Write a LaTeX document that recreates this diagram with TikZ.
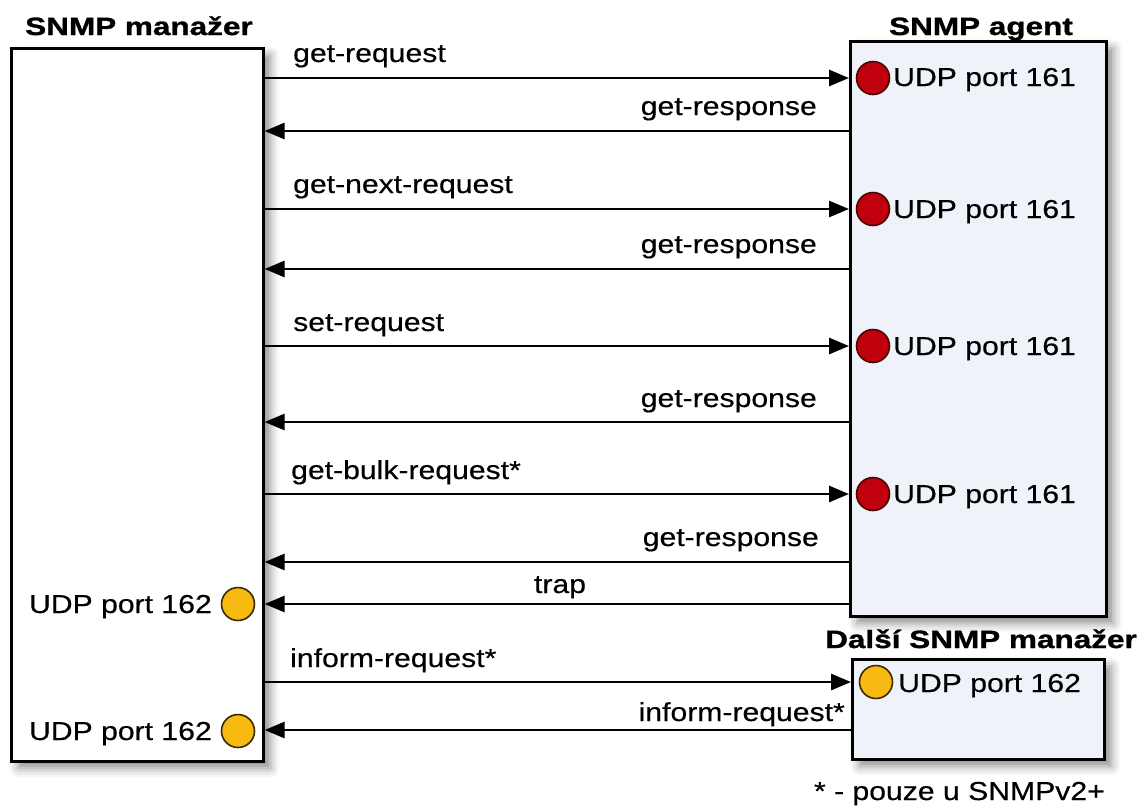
\documentclass[tikz,border=0pt]{standalone}
\usepackage{fontspec}
\setmainfont{Liberation Sans}[FakeStretch=1.16, FakeBold=0.4]
\newfontfamily\headfont{Liberation Sans Bold}[FakeStretch=1.26, FakeBold=1.2]
\usetikzlibrary{arrows.meta,shadows.blur}

\definecolor{agentfill}{HTML}{EFF2F8}
\definecolor{portred}{HTML}{C0000C}
\definecolor{portredline}{HTML}{4A0505}
\definecolor{portyellow}{HTML}{F7BA10}
\definecolor{portyellowline}{HTML}{3A2A05}

\tikzset{
  box/.style={draw=black, line width=2.6pt, anchor=north west, inner sep=0pt,
    blur shadow={shadow xshift=7pt, shadow yshift=-7pt, shadow blur radius=9pt, shadow opacity=45}},
  title/.style={font=\fontsize{25}{25}\headfont, inner sep=0pt},
  lbl/.style={font=\fontsize{26}{26}\selectfont, inner sep=0pt},
  msg/.style={line width=2.8pt, -{Triangle[length=20pt,width=16pt]}},
  redport/.style={circle, draw=portredline, fill=portred, line width=1.6pt, minimum size=33pt, inner sep=0pt},
  yellowport/.style={circle, draw=portyellowline, fill=portyellow, line width=1.6pt, minimum size=33pt, inner sep=0pt},
}

\begin{document}
\begin{tikzpicture}[x=1pt, y=-1pt]
\useasboundingbox (0,0) rectangle (1142,807);

% boxes
\node[box, fill=white, minimum width=252pt, minimum height=713pt] (mgr) at (10,47) {};
\node[box, fill=agentfill, minimum width=256pt, minimum height=575pt] (agent) at (849,40) {};
\node[box, fill=agentfill, minimum width=252pt, minimum height=100pt] (other) at (851,658) {};

% titles
\node[title, anchor=base] (tmgr) at (139,35) {SNMP manažer};
\node[title, anchor=base] (tagent) at (981,35) {SNMP agent};
\node[title, anchor=base] (tother) at (981,648) {Další SNMP manažer};

% agent ports
\node[redport] (p1) at (873,78) {};
\node[redport] (p2) at (873,209) {};
\node[redport] (p3) at (873,346) {};
\node[redport] (p4) at (873,494) {};
\foreach \p/\y in {p1/86,p2/218,p3/355,p4/503}
  \node[lbl, anchor=base west] (\p l) at (893,\y) {UDP port 161};

% manager ports
\node[yellowport] (m1) at (238,604) {};
\node[yellowport] (m2) at (238,731) {};
\node[lbl, anchor=base east] (m1l) at (212,613) {UDP port 162};
\node[lbl, anchor=base east] (m2l) at (212,740) {UDP port 162};

% other manager port
\node[yellowport] (o1) at (876,682) {};
\node[lbl, anchor=base west] (o1l) at (898,692) {UDP port 162};

% response levels
\coordinate (r1) at (0,131);
\coordinate (r2) at (0,269);
\coordinate (r3) at (0,422);
\coordinate (r4) at (0,562);
\coordinate (r5) at (0,730);

% requests
\draw[msg] (mgr.east |- p1) -- (agent.west |- p1);
\draw[msg] (mgr.east |- p2) -- (agent.west |- p2);
\draw[msg] (mgr.east |- p3) -- (agent.west |- p3);
\draw[msg] (mgr.east |- p4) -- (agent.west |- p4);
\draw[msg] (mgr.east |- o1) -- (other.west |- o1);

% responses
\draw[msg] (agent.west |- r1) -- (mgr.east |- r1);
\draw[msg] (agent.west |- r2) -- (mgr.east |- r2);
\draw[msg] (agent.west |- r3) -- (mgr.east |- r3);
\draw[msg] (agent.west |- r4) -- (mgr.east |- r4);
\draw[msg] (agent.west |- m1) -- (mgr.east |- m1);
\draw[msg] (other.west |- r5) -- (mgr.east |- r5);

% message labels
\node[lbl, anchor=base west] (a1) at (293,62) {get-request};
\node[lbl, anchor=base east] (b1) at (817,115) {get-response};
\node[lbl, anchor=base west] (a2) at (293,193) {get-next-request};
\node[lbl, anchor=base east] (b2) at (817,253) {get-response};
\node[lbl, anchor=base west] (a3) at (293,331) {set-request};
\node[lbl, anchor=base east] (b3) at (817,407) {get-response};
\node[lbl, anchor=base west] (a4) at (291,479) {get-bulk-request*};
\node[lbl, anchor=base east] (b4) at (819,546) {get-response};
\node[lbl, anchor=base] (tr) at (560,593) {trap};
\node[lbl, anchor=base west] (a5) at (290,667) {inform-request*};
\node[lbl, anchor=base east] (b5) at (845,721) {inform-request*};

% footnote
\node[lbl, anchor=base east] (note) at (1105,800) {* - pouze u SNMPv2+};
\end{tikzpicture}
\end{document}
